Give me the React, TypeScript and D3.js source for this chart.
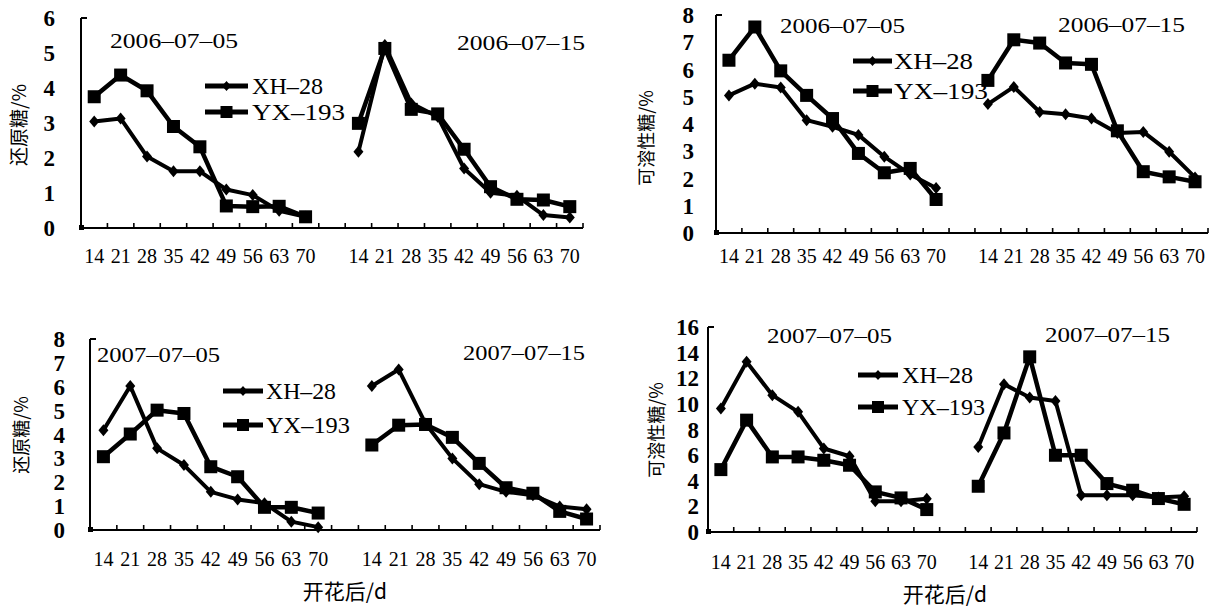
import React from 'react';
import * as d3 from 'd3';

// ---------- data ----------
const days = ['14', '21', '28', '35', '42', '49', '56', '63', '70'];
const slots = d3.range(19); // 9 days, 1 empty gap, 9 days
const xLabels = [...days, '', ...days];
const seriesNames = ['XH–28', 'YX–193'];

// Panel 1: 还原糖 2006
const rs2006Early_XH28 = [3.04, 3.13, 2.04, 1.62, 1.62, 1.1, 0.94, 0.49, 0.32];
const rs2006Early_YX193 = [3.75, 4.37, 3.92, 2.9, 2.32, 0.63, 0.61, 0.62, 0.32];
const rs2006Late_XH28 = [2.18, 5.23, 3.56, 3.18, 1.7, 1.01, 0.92, 0.37, 0.3];
const rs2006Late_YX193 = [2.99, 5.13, 3.39, 3.26, 2.25, 1.18, 0.82, 0.8, 0.61];

// Panel 2: 可溶性糖 2006
const ss2006Early_XH28 = [5.05, 5.48, 5.34, 4.14, 3.9, 3.6, 2.8, 2.15, 1.65];
const ss2006Early_YX193 = [6.34, 7.56, 5.95, 5.05, 4.2, 2.92, 2.21, 2.37, 1.23];
const ss2006Late_XH28 = [4.73, 5.36, 4.44, 4.36, 4.2, 3.67, 3.71, 2.98, 2.04];
const ss2006Late_YX193 = [5.6, 7.09, 6.97, 6.24, 6.19, 3.75, 2.25, 2.06, 1.88];

// Panel 3: 还原糖 2007
const rs2007Early_XH28 = [4.18, 6.03, 3.42, 2.72, 1.6, 1.28, 1.12, 0.35, 0.12];
const rs2007Early_YX193 = [3.07, 4.02, 5.02, 4.88, 2.65, 2.23, 0.95, 0.95, 0.71];
const rs2007Late_XH28 = [6.03, 6.72, 4.46, 3.0, 1.92, 1.6, 1.46, 0.98, 0.87];
const rs2007Late_YX193 = [3.56, 4.39, 4.42, 3.88, 2.79, 1.77, 1.54, 0.78, 0.46];

// Panel 4: 可溶性糖 2007
const ss2007Early_XH28 = [9.64, 13.28, 10.68, 9.38, 6.52, 5.91, 2.4, 2.4, 2.6];
const ss2007Early_YX193 = [4.87, 8.73, 5.86, 5.86, 5.6, 5.21, 3.13, 2.66, 1.75];
const ss2007Late_XH28 = [6.64, 11.54, 10.5, 10.23, 2.87, 2.87, 2.87, 2.69, 2.79];
const ss2007Late_YX193 = [3.57, 7.73, 13.67, 5.99, 5.99, 3.78, 3.26, 2.61, 2.16];

const titles2006 = ['2006–07–05', '2006–07–15'];
const titles2007 = ['2007–07–05', '2007–07–15'];
const yLabelRS = '还原糖/%';
const yLabelSS = '可溶性糖/%';
const xLabelText = '开花后/d';

// ---------- layout ----------
type Layout = {
  left: number; right: number; top: number; bottom: number;
  yMax: number; yStep: number; tickRight: number;
  t1: [number, number, number]; t2: [number, number, number];
  leg: { x0: number; x1: number; tx: number; y1: number; y2: number; l1: number; l2: number };
  yLab: [number, number, number];
  xTickBase: number;
  xLab?: [number, number];
};

const panels = [
  {
    xh: [rs2006Early_XH28, rs2006Late_XH28], yx: [rs2006Early_YX193, rs2006Late_YX193],
    titles: titles2006, yLabel: yLabelRS,
    L: {
      left: 81, right: 583, top: 18, bottom: 228, yMax: 6, yStep: 1, tickRight: 55,
      t1: [110, 48, 128], t2: [457, 50, 128],
      leg: { x0: 205, x1: 248, tx: 252, y1: 86, y2: 112, l1: 71, l2: 93 },
      yLab: [19, 125, 19], xTickBase: 263,
    } as Layout,
  },
  {
    xh: [ss2006Early_XH28, ss2006Late_XH28], yx: [ss2006Early_YX193, ss2006Late_YX193],
    titles: titles2006, yLabel: yLabelSS,
    L: {
      left: 716, right: 1208, top: 15, bottom: 233, yMax: 8, yStep: 1, tickRight: 694,
      t1: [780, 33, 125], t2: [1058, 32, 127],
      leg: { x0: 853, x1: 892, tx: 894, y1: 61, y2: 91, l1: 79, l2: 94 },
      yLab: [647, 138, 18], xTickBase: 263,
    } as Layout,
  },
  {
    xh: [rs2007Early_XH28, rs2007Late_XH28], yx: [rs2007Early_YX193, rs2007Late_YX193],
    titles: titles2007, yLabel: yLabelRS,
    L: {
      left: 90, right: 600, top: 339, bottom: 530, yMax: 8, yStep: 1, tickRight: 65,
      t1: [97, 362, 123], t2: [463, 360, 122],
      leg: { x0: 223, x1: 263, tx: 266, y1: 391, y2: 425, l1: 70, l2: 84 },
      yLab: [22, 435, 18], xTickBase: 566, xLab: [345, 599],
    } as Layout,
  },
  {
    xh: [ss2007Early_XH28, ss2007Late_XH28], yx: [ss2007Early_YX193, ss2007Late_YX193],
    titles: titles2007, yLabel: yLabelSS,
    L: {
      left: 708, right: 1197, top: 327, bottom: 532, yMax: 16, yStep: 2, tickRight: 699,
      t1: [767, 343, 125], t2: [1045, 342, 125],
      leg: { x0: 858, x1: 898, tx: 902, y1: 375, y2: 407, l1: 71, l2: 83 },
      yLab: [657, 430, 18], xTickBase: 569, xLab: [945, 602],
    } as Layout,
  },
];

const SERIF = '"Liberation Serif", "Times New Roman", serif';
const CJK = '"Noto Sans CJK SC", sans-serif';

const diamond = (w: number, h: number) => `M0,${-h}L${w},0L0,${h}L${-w},0Z`;

function Panel({ p }: { p: typeof panels[number] }) {
  const L = p.L;
  const x = d3.scaleBand<number>().domain(slots).range([L.left, L.right]).padding(0);
  const bw = x.bandwidth();
  const cx = (i: number) => (x(i) as number) + bw / 2;
  const y = d3.scaleLinear().domain([0, L.yMax]).range([L.bottom, L.top]);
  const yTicks = d3.range(0, L.yMax + 0.001, L.yStep);
  const line = d3.line<[number, number]>().x(d => cx(d[0])).y(d => y(d[1]));
  const groups = (vals: number[][]) =>
    vals.map((arr, g) => arr.map((v, i) => [g * 10 + i, v] as [number, number]));
  const xhG = groups(p.xh);
  const yxG = groups(p.yx);

  return (
    <g>
      {/* axes */}
      <line x1={L.left} x2={L.left} y1={L.top} y2={L.bottom} stroke="#000" strokeWidth={2} />
      <line x1={L.left} x2={L.left + 6} y1={L.top} y2={L.top} stroke="#000" strokeWidth={2} />
      <line x1={L.left} x2={L.right} y1={L.bottom} y2={L.bottom} stroke="#000" strokeWidth={2} />
      <rect x={L.left - 2} y={L.bottom - 3} width={5} height={5} fill="#000" />
      {d3.range(20).map(i => {
        const xx = i < 19 ? (x(i) as number) : L.right;
        return <line key={i} x1={xx} x2={xx} y1={L.bottom} y2={L.bottom - 5} stroke="#000" strokeWidth={1.6} />;
      })}
      {yTicks.map(t => (
        <text key={t} x={L.tickRight} y={y(t)} dy="0.35em" textAnchor="end"
          fontFamily={SERIF} fontWeight="bold" fontSize={23}>{t}</text>
      ))}
      {slots.map(i => xLabels[i] ? (
        <text key={i} x={cx(i)} y={L.xTickBase} textAnchor="middle" fontFamily={SERIF} fontSize={20}>
          {xLabels[i]}
        </text>
      ) : null)}
      {/* y label */}
      <text transform={`translate(${L.yLab[0]},${L.yLab[1]}) rotate(-90)`} textAnchor="middle"
        dy="0.35em" fontFamily={CJK} fontSize={L.yLab[2]}>{p.yLabel}</text>
      {L.xLab && (
        <text x={L.xLab[0]} y={L.xLab[1]} textAnchor="middle" fontFamily={CJK} fontSize={21}>{xLabelText}</text>
      )}
      {/* titles */}
      <text x={L.t1[0]} y={L.t1[1]} textLength={L.t1[2]} lengthAdjust="spacingAndGlyphs"
        fontFamily={SERIF} fontSize={22}>{p.titles[0]}</text>
      <text x={L.t2[0]} y={L.t2[1]} textLength={L.t2[2]} lengthAdjust="spacingAndGlyphs"
        fontFamily={SERIF} fontSize={22}>{p.titles[1]}</text>
      {/* series lines */}
      {xhG.map((g, k) => (
        <path key={'xl' + k} d={line(g) || ''} fill="none" stroke="#000" strokeWidth={4} strokeLinejoin="round" />
      ))}
      {yxG.map((g, k) => (
        <path key={'yl' + k} d={line(g) || ''} fill="none" stroke="#000" strokeWidth={4.5} strokeLinejoin="round" />
      ))}
      {xhG.flat().map(([i, v]) => (
        <path key={'xm' + i} d={diamond(5, 6)} transform={`translate(${cx(i)},${y(v)})`} fill="#000" />
      ))}
      {yxG.flat().map(([i, v]) => (
        <rect key={'ym' + i} x={cx(i) - 6.5} y={y(v) - 6.5} width={13} height={13} fill="#000" />
      ))}
      {/* legend */}
      <line x1={L.leg.x0} x2={L.leg.x1} y1={L.leg.y1} y2={L.leg.y1} stroke="#000" strokeWidth={5} />
      <path d={diamond(4.5, 5)} transform={`translate(${(L.leg.x0 + L.leg.x1) / 2},${L.leg.y1})`} fill="#000" />
      <text x={L.leg.tx} y={L.leg.y1 + 8} textLength={L.leg.l1} lengthAdjust="spacingAndGlyphs"
        fontFamily={SERIF} fontSize={23}>{seriesNames[0]}</text>
      <line x1={L.leg.x0} x2={L.leg.x1} y1={L.leg.y2} y2={L.leg.y2} stroke="#000" strokeWidth={5} />
      <rect x={(L.leg.x0 + L.leg.x1) / 2 - 6} y={L.leg.y2 - 6} width={12} height={12} fill="#000" />
      <text x={L.leg.tx} y={L.leg.y2 + 8} textLength={L.leg.l2} lengthAdjust="spacingAndGlyphs"
        fontFamily={SERIF} fontSize={23}>{seriesNames[1]}</text>
    </g>
  );
}

export default function App() {
  return (
    <svg width={1216} height={607} viewBox="0 0 1216 607"
      style={{ position: 'absolute', left: 0, top: 0, background: '#fff' }}>
      <rect x={0} y={0} width={1216} height={607} fill="#fff" />
      {panels.map((p, k) => <Panel key={k} p={p} />)}
    </svg>
  );
}
